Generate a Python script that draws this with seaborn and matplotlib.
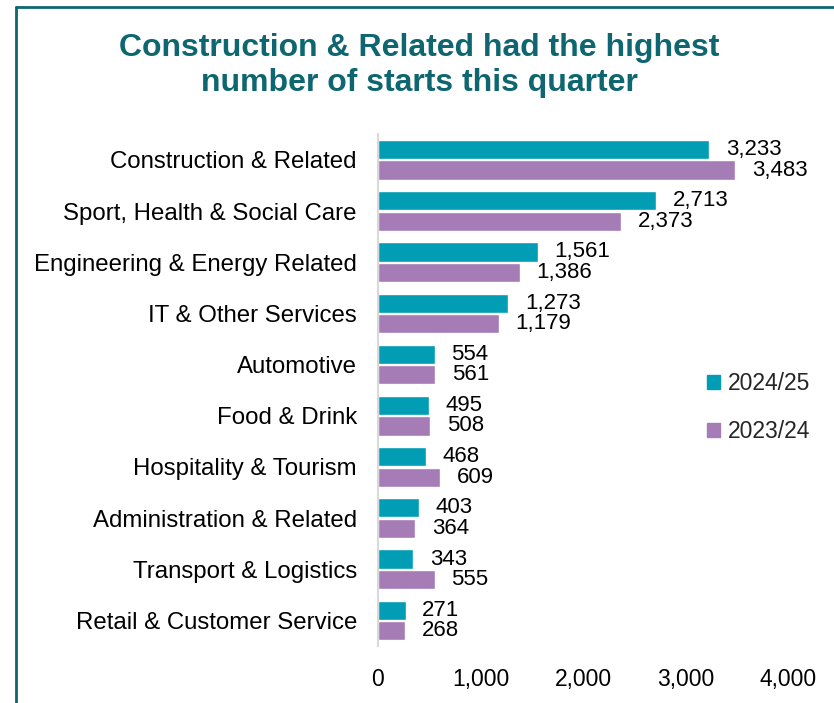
import matplotlib
matplotlib.use("Agg")
import matplotlib.pyplot as plt
import matplotlib.patches as mpatches
import seaborn as sns
import pandas as pd

# data
categories = [
    "Construction & Related",
    "Sport, Health & Social Care",
    "Engineering & Energy Related",
    "IT & Other Services",
    "Automotive",
    "Food & Drink",
    "Hospitality & Tourism",
    "Administration & Related",
    "Transport & Logistics",
    "Retail & Customer Service",
]
starts_2024_25 = [3233, 2713, 1561, 1273, 554, 495, 468, 403, 343, 271]
starts_2023_24 = [3483, 2373, 1386, 1179, 561, 508, 609, 364, 555, 268]
years = ["2024/25", "2023/24"]
xticks = [0, 1000, 2000, 3000, 4000]

TEAL = "#009db5"
PURPLE = "#a57cb6"
TITLE_COL = "#0e6670"
FS = 16.5

df = pd.DataFrame({
    "category": categories * 2,
    "year": [years[0]] * len(categories) + [years[1]] * len(categories),
    "starts": starts_2024_25 + starts_2023_24,
})

sns.set_theme(style="white")
plt.rcParams["font.family"] = ["Liberation Sans", "DejaVu Sans"]

fig = plt.figure(figsize=(8.34, 7.03), dpi=100)
ax = fig.add_axes([0.453, 0.081, 0.492, 0.728])

sns.barplot(
    data=df, y="category", x="starts", hue="year",
    order=categories, hue_order=years,
    palette=[TEAL, PURPLE], saturation=1, width=0.8, gap=0.06,
    orient="h", ax=ax, legend=False,
)

for cont in ax.containers:
    ax.bar_label(cont, labels=[f"{v:,.0f}" for v in cont.datavalues],
                 padding=12, fontsize=16, color="black")

ax.set_xlim(0, 4000)
ax.set_ylim(len(categories) - 0.5, -0.5)
ax.set_xticks(xticks)
ax.set_xticklabels([f"{t:,}" for t in xticks], fontsize=FS, color="black")
ax.tick_params(axis="x", length=0, pad=16)
ax.tick_params(axis="y", length=0, pad=15, labelsize=17.3, labelcolor="black")
ax.set_xlabel("")
ax.set_ylabel("")
for s in ["top", "right", "bottom"]:
    ax.spines[s].set_visible(False)
ax.spines["left"].set_color("#d9d9d9")
ax.spines["left"].set_linewidth(1.5)

handles = [mpatches.Patch(color=TEAL, label=years[0]),
           mpatches.Patch(color=PURPLE, label=years[1])]
fig.legend(handles=handles, loc="center left", bbox_to_anchor=(0.823, 0.420),
           frameon=False, fontsize=FS, handlelength=0.55, handleheight=0.55,
           handletextpad=0.35, labelspacing=1.1)

fig.text(0.503, 0.907, "Construction & Related had the highest\nnumber of starts this quarter",
         ha="center", va="center", fontsize=23, fontweight="bold",
         color=TITLE_COL, linespacing=1.2)

# outer frame (only top and left edges visible in the crop)
fig.add_artist(plt.Line2D([0.019, 0.019], [0, 0.99], color=TITLE_COL, lw=2,
                          transform=fig.transFigure))
fig.add_artist(plt.Line2D([0.019, 1.0], [0.99, 0.99], color=TITLE_COL, lw=2,
                          transform=fig.transFigure))

fig.savefig("out.png", dpi=100)
